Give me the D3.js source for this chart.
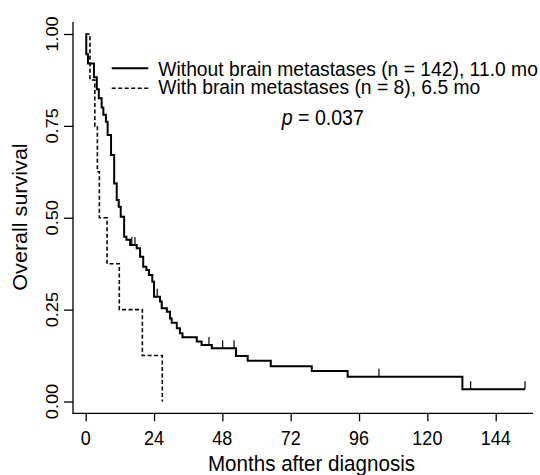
<!DOCTYPE html>
<html><head><meta charset="utf-8">
<script src="https://cdn.jsdelivr.net/npm/d3@7"></script>
<style>body{margin:0;background:#fff}svg{display:block}</style>
</head><body><svg id="c" width="540" height="475"></svg>
<script>
// ---- data ----
const xTicks = [0, 24, 48, 72, 96, 120, 144];
const xTickLabels = ["0", "24", "48", "72", "96", "120", "144"];
const yTicks = [0, 0.25, 0.5, 0.75, 1];
const yTickLabels = ["0.00", "0.25", "0.50", "0.75", "1.00"];
const seriesNames = ["Without brain metastases (n = 142), 11.0 mo", "With brain metastases (n = 8), 6.5 mo"];
const xTitle = "Months after diagnosis";
const yTitle = "Overall survival";
const pValue = "0.037";

// Without brain metastases: event times (months) and survival after each step
const noMetTimes = [0, 0.2, 0.8, 2.9, 3.9, 4.6, 5.6, 6.2, 7.1, 7.7, 8.9, 10.0, 10.9, 11.6, 12.3, 13.5, 14.3, 15.6, 17.9, 19.1, 20.2, 21.3, 22.2, 23.4, 24.0, 26.1, 26.7, 28.5, 29.6, 30.2, 32.0, 33.1, 34.0, 39.0, 40.7, 44.3, 52.8, 56.9, 65.0, 79.4, 92.0, 132.3, 154.3];
const noMetSurv  = [1, 0.945, 0.92, 0.882, 0.85, 0.825, 0.80, 0.78, 0.761, 0.725, 0.671, 0.593, 0.548, 0.53, 0.503, 0.448, 0.44, 0.426, 0.417, 0.394, 0.367, 0.358, 0.344, 0.326, 0.285, 0.272, 0.254, 0.244, 0.226, 0.214, 0.199, 0.186, 0.175, 0.163, 0.154, 0.145, 0.124, 0.111, 0.096, 0.083, 0.0675, 0.033, 0.033];
const noMetCensor = [16.2, 17.3, 25.1, 43.3, 48.1, 52.1, 103.0, 135.2, 154.3];

// With brain metastases
const metTimes = [0, 1.5, 3.2, 4.1, 4.8, 7.5, 11.8, 19.9, 26.9];
const metSurv  = [1, 0.875, 0.75, 0.625, 0.5, 0.375, 0.25, 0.125, 0];

// ---- drawing ----
const svg = d3.select("#c");
const font = "'Liberation Sans', Arial, Helvetica, sans-serif";
const x = d3.scaleLinear().domain([0, 144]).range([85.7, 495.7]);
const y = d3.scaleLinear().domain([0, 1]).range([401.5, 34]);

const frameLeft = 73, frameBottom = 413.3, frameRight = 533, frameTop = 22;

// text placed with a slight vertical stretch (as in the reference image)
function txt(parent, str, px, py, size, k, rot, anchor) {
  return parent.append("text")
    .attr("transform", `translate(${px},${py}) scale(1,${k})` + (rot ? ` rotate(${rot})` : ""))
    .attr("text-anchor", anchor || "start")
    .attr("font-family", font).attr("font-size", size).attr("fill", "#000")
    .text(str);
}

// frame (L shape)
svg.append("path")
  .attr("d", `M${frameLeft},${frameTop}V${frameBottom}H${frameRight}`)
  .attr("fill", "none").attr("stroke", "#000").attr("stroke-width", 1.3);

// x axis
const xa = svg.append("g").attr("transform", `translate(0,${frameBottom})`)
  .call(d3.axisBottom(x).tickValues(xTicks).tickSize(8).tickFormat(() => ""));
xa.select(".domain").remove();
xa.selectAll(".tick text").remove();
xa.selectAll(".tick line").attr("stroke", "#000").attr("stroke-width", 1.3);
xTicks.forEach((t, i) => txt(svg, xTickLabels[i], x(t), 445, 18, 1.12, 0, "middle"));

// y axis
const ya = svg.append("g").attr("transform", `translate(${frameLeft},0)`)
  .call(d3.axisLeft(y).tickValues(yTicks).tickSize(9).tickFormat(() => ""));
ya.select(".domain").remove();
ya.selectAll(".tick text").remove();
ya.selectAll(".tick line").attr("stroke", "#000").attr("stroke-width", 1.3);
yTicks.forEach((t, i) => txt(svg, yTickLabels[i], 58.4, y(t), 16.5, 1.1, -90, "middle"));

// titles
txt(svg, xTitle, 311.5, 471.3, 20.6, 1.04, 0, "middle");
txt(svg, yTitle, 26.6, 217, 19.6, 1.1, -90, "middle");

// curves
const line = d3.line().x(d => x(d[0])).y(d => y(d[1])).curve(d3.curveStepAfter);
const noMetPts = noMetTimes.map((t, i) => [t, noMetSurv[i]]);
const metPts = metTimes.map((t, i) => [t, metSurv[i]]);

svg.append("path").attr("d", line(metPts)).attr("fill", "none")
  .attr("stroke", "#000").attr("stroke-width", 1.6).attr("stroke-dasharray", "4,2.5");
svg.append("path").attr("d", line(noMetPts)).attr("fill", "none")
  .attr("stroke", "#000").attr("stroke-width", 2);

// censor marks
function survAt(t) {
  let s = 1;
  for (let i = 0; i < noMetTimes.length; i++) { if (noMetTimes[i] <= t) s = noMetSurv[i]; }
  return s;
}
svg.append("g").selectAll("line").data(noMetCensor).join("line")
  .attr("x1", d => x(d)).attr("x2", d => x(d))
  .attr("y1", d => y(survAt(d)) - 8).attr("y2", d => y(survAt(d)))
  .attr("stroke", "#000").attr("stroke-width", 1.2);

// legend
const lg = svg.append("g");
const legY = [68.3, 88.3];
const legBase = [75.9, 94.4];
const dashes = [null, "4,2.5"];
const widths = [2, 1.6];
seriesNames.forEach((name, i) => {
  lg.append("line").attr("x1", 111.7).attr("x2", 148.3).attr("y1", legY[i]).attr("y2", legY[i])
    .attr("stroke", "#000").attr("stroke-width", widths[i]).attr("stroke-dasharray", dashes[i]);
  txt(lg, name, 158.3, legBase[i], 19.3, 1.0, 0, "start");
});

// p value
const pt = txt(svg, "", 281.7, 124.5, 19.6, 1.08, 0, "start");
pt.append("tspan").attr("font-style", "italic").text("p");
pt.append("tspan").text(" = " + pValue);
</script>
</body></html>
